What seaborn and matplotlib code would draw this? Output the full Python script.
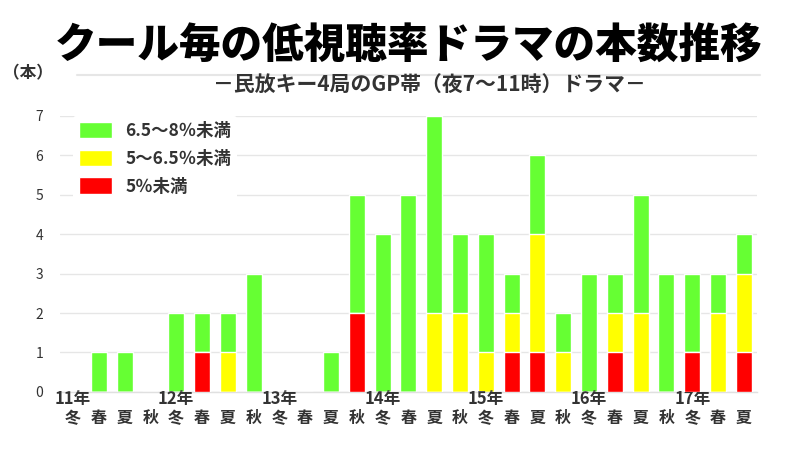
import matplotlib
matplotlib.use("Agg")
import matplotlib.pyplot as plt
import seaborn as sns
import numpy as np
from matplotlib.patches import Patch
from matplotlib.lines import Line2D

# ---- data ----
seasons = ['冬', '春', '夏', '秋'] * 6 + ['冬', '春', '夏']
years = ['11年', '12年', '13年', '14年', '15年', '16年', '17年']
red = [0, 0, 0, 0, 0, 1, 0, 0, 0, 0, 0, 2, 0, 0, 0, 0, 0, 1, 1, 0, 0, 1, 0, 0, 1, 0, 1]
yellow = [0, 0, 0, 0, 0, 0, 1, 0, 0, 0, 0, 0, 0, 0, 2, 2, 1, 1, 3, 1, 0, 1, 2, 0, 0, 2, 2]
green = [0, 1, 1, 0, 2, 1, 1, 3, 0, 0, 1, 3, 4, 5, 5, 2, 3, 1, 2, 1, 3, 1, 3, 3, 2, 1, 1]
legend_labels = ['6.5～8％未満', '5～6.5％未満', '5％未満']
yticks = [0, 1, 2, 3, 4, 5, 6, 7]

title = 'クール毎の低視聴率ドラマの本数推移'
subtitle = '－民放キー4局のGP帯（夜7～11時）ドラマ－'
unit = '（本）'

C_GREEN = '#66ff33'
C_YELLOW = '#ffff00'
C_RED = '#ff0000'
TXT = '#333333'

sns.set_theme(style='white')
plt.rcParams['font.family'] = ['Noto Sans CJK JP', 'DejaVu Sans']

fig = plt.figure(figsize=(8, 4.5), dpi=100)
ax = fig.add_axes([0.075, 0.129, 0.871, 0.614])

idx = list(range(len(seasons)))
r = np.array(red)
y = np.array(yellow)
g = np.array(green)
tot = r + y + g
ry = r + y

sns.barplot(x=idx, y=tot, color=C_GREEN, saturation=1, width=0.62, ax=ax, zorder=2)
sns.barplot(x=idx, y=ry, color=C_YELLOW, saturation=1, width=0.62, ax=ax, zorder=3)
sns.barplot(x=idx, y=r, color=C_RED, saturation=1, width=0.62, ax=ax, zorder=4)

ax.set_xlim(-0.5, len(seasons) - 0.5)
ax.set_ylim(0, 7)
ax.set_yticks(yticks)
ax.set_yticklabels([str(v) for v in yticks], fontsize=10, color=TXT)
ax.tick_params(axis='y', length=0, pad=12)
ax.set_xticks([])
ax.set_xlabel('')
ax.set_ylabel('')
ax.grid(axis='y', color='#e6e6e6', lw=1, zorder=0)
ax.set_axisbelow(True)
for s in ['top', 'right', 'left']:
    ax.spines[s].set_visible(False)
ax.spines['bottom'].set_color('#e0e0e0')
ax.spines['bottom'].set_linewidth(1)

tr = ax.get_xaxis_transform()
for i, s in enumerate(seasons):
    ax.text(i, -0.094, s, transform=tr, ha='center', va='center',
            fontsize=11.5, fontweight='bold', color=TXT)
for k, yr in enumerate(years):
    ax.text(k * 4, -0.027, yr, transform=tr, ha='center', va='center',
            fontsize=12, fontweight='bold', color=TXT)

handles = [Patch(facecolor=C_GREEN), Patch(facecolor=C_YELLOW), Patch(facecolor=C_RED)]
leg = ax.legend(handles, legend_labels, loc='upper left', bbox_to_anchor=(0.018, 1.0),
                frameon=True, facecolor='white', edgecolor='none', framealpha=1,
                fontsize=12.5, handlelength=1.9, handleheight=1.1, labelspacing=0.55,
                handletextpad=0.8, borderaxespad=0.0, borderpad=0.35)
for t in leg.get_texts():
    t.set_color(TXT)
    t.set_fontweight('bold')
leg.set_zorder(5)

fig.text(0.511, 0.896, title, ha='center', va='center', fontsize=30,
         fontweight='black', color='black')
fig.text(0.537, 0.811, subtitle, ha='center', va='center', fontsize=15,
         fontweight='bold', color=TXT)
fig.text(0.035, 0.836, unit, ha='center', va='center', fontsize=12,
         fontweight='bold', color=TXT)
fig.add_artist(Line2D([0.096, 0.95], [0.833, 0.833], color='#e6e6e6', lw=1.5,
                      transform=fig.transFigure))

fig.savefig('out.png', dpi=100, facecolor='white')
